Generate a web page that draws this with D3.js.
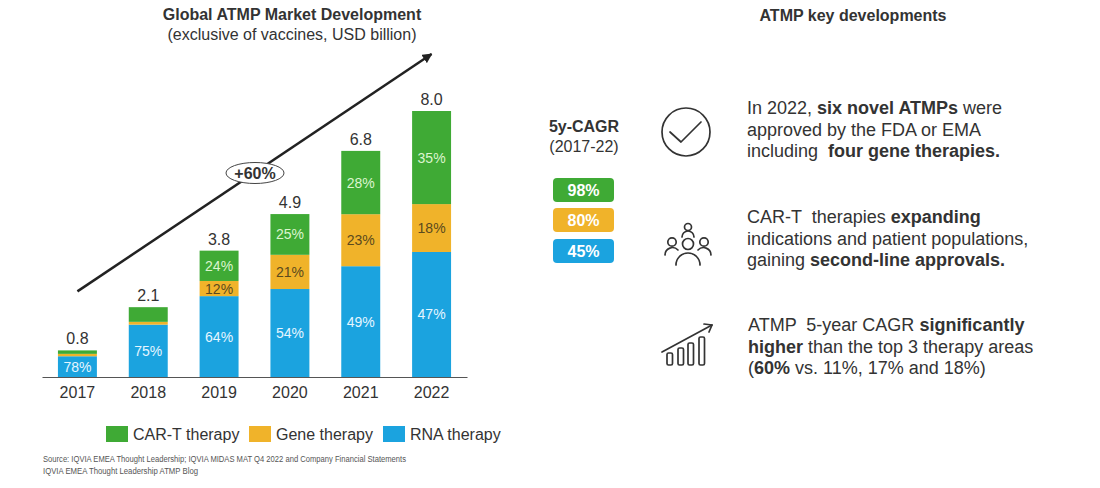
<!DOCTYPE html>
<html><head><meta charset="utf-8">
<script src="https://cdn.jsdelivr.net/npm/d3@7/dist/d3.min.js"></script>
<style>
html,body{margin:0;padding:0;background:#fff;}
svg{display:block;font-family:"Liberation Sans",Arial,sans-serif;}
</style></head>
<body>
<svg id="c" width="1100" height="488"></svg>
<script>
// ---- data ----
const years = ["2017","2018","2019","2020","2021","2022"];
const totals = [0.8, 2.1, 3.8, 4.9, 6.8, 8.0];
const rnaShare = [78, 75, 64, 54, 49, 47];
const geneShare = [9, 4, 12, 21, 23, 18];
const cartShare = [13, 21, 24, 25, 28, 35];
const seriesNames = ["RNA therapy", "Gene therapy", "CAR-T therapy"];
const legendOrder = ["CAR-T therapy", "Gene therapy", "RNA therapy"];
const cagrValues = ["98%", "80%", "45%"];
const growthLabel = "+60%";
const yMax = 8;

const colors = {"CAR-T therapy":"#3faa35","Gene therapy":"#f0b32a","RNA therapy":"#1ba3df"};
const labelColors = {"CAR-T therapy":"#dcf5cf","Gene therapy":"#5b4a1e","RNA therapy":"#e6f6ff"};
const ink = "#333";

const svg = d3.select("#c");

// ---- scales ----
const x = d3.scaleBand().domain(years).range([42, 467]).paddingInner(0.45).paddingOuter(0.225);
const y = d3.scaleLinear().domain([0, yMax]).range([377, 111]);

const rows = years.map((yr, i) => ({
  year: yr, total: totals[i],
  "RNA therapy": totals[i] * rnaShare[i] / 100,
  "Gene therapy": totals[i] * geneShare[i] / 100,
  "CAR-T therapy": totals[i] * cartShare[i] / 100,
  shares: {"RNA therapy": rnaShare[i], "Gene therapy": geneShare[i], "CAR-T therapy": cartShare[i]}
}));
const stack = d3.stack().keys(seriesNames)(rows);

// titles
svg.append("text").attr("x", 292).attr("y", 20).attr("text-anchor", "middle")
  .attr("font-size", 16).attr("font-weight", "bold").attr("fill", ink)
  .text("Global ATMP Market Development");
svg.append("text").attr("x", 292).attr("y", 40).attr("text-anchor", "middle")
  .attr("font-size", 16).attr("fill", ink)
  .text("(exclusive of vaccines, USD billion)");

// growth arrow
const defs = svg.append("defs");
defs.append("marker").attr("id", "ah").attr("viewBox", "0 0 10 10").attr("refX", 9).attr("refY", 5)
  .attr("markerWidth", 4).attr("markerHeight", 4).attr("orient", "auto")
  .append("path").attr("d", "M0,0 L10,5 L0,10 z").attr("fill", "#222");
const aStart = [x("2017") + x.bandwidth() / 2, y(totals[0]) - 59];
const aEnd = [x("2022") + x.bandwidth() / 2, 54];
svg.append("line").attr("x1", aStart[0]).attr("y1", aStart[1]).attr("x2", aEnd[0]).attr("y2", aEnd[1])
  .attr("stroke", "#222").attr("stroke-width", 2.5).attr("marker-end", "url(#ah)");
svg.append("ellipse").attr("cx", 255).attr("cy", 173).attr("rx", 29).attr("ry", 10.5)
  .attr("fill", "#fff").attr("stroke", "#444").attr("stroke-width", 1);
svg.append("text").attr("x", 255).attr("y", 179).attr("text-anchor", "middle")
  .attr("font-size", 16).attr("font-weight", "bold").attr("fill", ink).text(growthLabel);

// bars
const g = svg.append("g");
stack.forEach(layer => {
  const key = layer.key;
  g.selectAll(null).data(layer).join("rect")
    .attr("x", d => x(d.data.year)).attr("width", x.bandwidth())
    .attr("y", d => y(d[1])).attr("height", d => y(d[0]) - y(d[1]))
    .attr("fill", colors[key]);
  g.selectAll(null).data(layer.filter(d => y(d[0]) - y(d[1]) >= 15)).join("text")
    .attr("x", d => x(d.data.year) + x.bandwidth() / 2)
    .attr("y", d => (y(d[0]) + y(d[1])) / 2 + 5)
    .attr("text-anchor", "middle").attr("font-size", 14).attr("fill", labelColors[key])
    .text(d => d.data.shares[key] + "%");
});
// totals
g.selectAll(".tot").data(rows).join("text")
  .attr("x", d => x(d.year) + x.bandwidth() / 2).attr("y", d => y(d.total) - 6)
  .attr("text-anchor", "middle").attr("font-size", 16).attr("fill", ink)
  .text(d => d.total.toFixed(1));

// axis
const ax = svg.append("g").attr("transform", `translate(0,${y(0)})`)
  .call(d3.axisBottom(x).tickSize(0).tickSizeOuter(0).tickPadding(10));
ax.select(".domain").attr("stroke", "#555").attr("stroke-width", 1.2);
ax.selectAll("text").attr("font-size", 16).attr("fill", ink).attr("font-family", "Liberation Sans, Arial, sans-serif");

// legend
const legX = [106, 249, 383];
legendOrder.forEach((k, i) => {
  svg.append("rect").attr("x", legX[i]).attr("y", 426).attr("width", 22).attr("height", 16).attr("fill", colors[k]);
  svg.append("text").attr("x", legX[i] + 27).attr("y", 440).attr("font-size", 16).attr("fill", ink).text(k);
});

// source
svg.append("text").attr("x", 43).attr("y", 462).attr("font-size", 8.5).attr("fill", "#555")
  .attr("textLength", 363).attr("lengthAdjust", "spacingAndGlyphs")
  .text("Source: IQVIA EMEA Thought Leadership; IQVIA MIDAS MAT Q4 2022 and Company Financial Statements");
svg.append("text").attr("x", 43).attr("y", 474).attr("font-size", 8.5).attr("fill", "#555")
  .attr("textLength", 155).attr("lengthAdjust", "spacingAndGlyphs")
  .text("IQVIA EMEA Thought Leadership ATMP Blog");

// right panel
svg.append("text").attr("x", 853).attr("y", 21).attr("text-anchor", "middle")
  .attr("font-size", 16).attr("font-weight", "bold").attr("fill", ink).text("ATMP key developments");
svg.append("text").attr("x", 584).attr("y", 132).attr("text-anchor", "middle")
  .attr("font-size", 16).attr("font-weight", "bold").attr("fill", ink).text("5y-CAGR");
svg.append("text").attr("x", 584).attr("y", 152).attr("text-anchor", "middle")
  .attr("font-size", 16).attr("fill", ink).text("(2017-22)");
const badgeY = [178, 208, 239];
legendOrder.forEach((k, i) => {
  svg.append("rect").attr("x", 553).attr("y", badgeY[i]).attr("width", 61).attr("height", 24)
    .attr("rx", 4).attr("fill", colors[k]);
  svg.append("text").attr("x", 583.5).attr("y", badgeY[i] + 18).attr("text-anchor", "middle")
    .attr("font-size", 16).attr("font-weight", "bold").attr("fill", "#fff").text(cagrValues[i]);
});

// text blocks
function block(x0, y0, lines) {
  lines.forEach((parts, li) => {
    const t = svg.append("text").attr("x", x0).attr("y", y0 + li * 21.5).attr("font-size", 18).attr("fill", ink)
      .attr("xml:space", "preserve");
    parts.forEach(p => t.append("tspan").attr("font-weight", p[1] ? "bold" : "normal").text(p[0]));
  });
}
block(747, 114, [
  [["In 2022, ", 0], ["six novel ATMPs", 1], [" were", 0]],
  [["approved by the FDA or EMA", 0]],
  [["including  ", 0], ["four gene therapies.", 1]]
]);
block(747, 223, [
  [["CAR-T  therapies ", 0], ["expanding", 1]],
  [["indications and patient populations,", 0]],
  [["gaining ", 0], ["second-line approvals.", 1]]
]);
block(748, 331, [
  [["ATMP  5-year CAGR ", 0], ["significantly", 1]],
  [["higher", 1], [" than the top 3 therapy areas", 0]],
  [["(", 0], ["60%", 1], [" vs. 11%, 17% and 18%)", 0]]
]);

// icons
const ic = svg.append("g").attr("fill", "none").attr("stroke", "#333").attr("stroke-width", 1.7)
  .attr("stroke-linecap", "round").attr("stroke-linejoin", "round");
ic.append("circle").attr("cx", 686).attr("cy", 132).attr("r", 24);
ic.append("path").attr("d", "M670,132 L681,142 L701,122");
// people
ic.append("circle").attr("cx", 688).attr("cy", 227).attr("r", 3.5);
ic.append("path").attr("d", "M682,237 A6,6 0 0 1 694,237");
ic.append("circle").attr("cx", 688).attr("cy", 244).attr("r", 5.5);
ic.append("path").attr("d", "M676,265 A12,12 0 0 1 700,265");
ic.append("circle").attr("cx", 672).attr("cy", 242).attr("r", 4.2);
ic.append("path").attr("d", "M665,255 A7.5,7.5 0 0 1 678,250");
ic.append("circle").attr("cx", 704).attr("cy", 242).attr("r", 4.2);
ic.append("path").attr("d", "M698,250 A7.5,7.5 0 0 1 711,255");
// growth chart icon
ic.append("path").attr("d", "M662,352 L712,325");
ic.append("path").attr("d", "M704,324 L712,325 L709,332");
[[667,353],[678,348],[688,343],[699,337]].forEach(b => {
  ic.append("rect").attr("x", b[0]).attr("y", b[1]).attr("width", 5.5).attr("height", 365 - b[1]).attr("rx", 1.5);
});
</script>
</body></html>
